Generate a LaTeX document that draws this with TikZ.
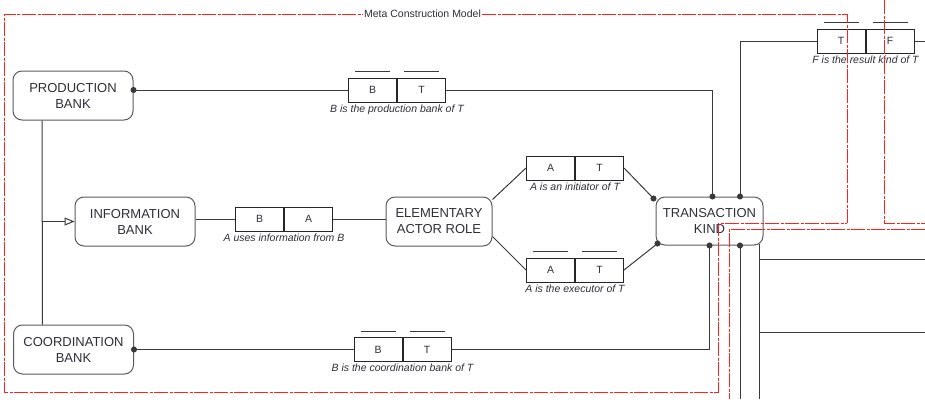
\documentclass[tikz,border=0pt]{standalone}
\usepackage{fontspec}
\setmainfont{Liberation Sans}
\usetikzlibrary{positioning,arrows.meta}
\definecolor{ink}{HTML}{2E2E3A}
\definecolor{wire}{HTML}{3A3A3A}
\definecolor{rim}{HTML}{5A5A5A}
\definecolor{scopered}{HTML}{FF2020}

\begin{document}
\begin{tikzpicture}[x=1pt, y=-1pt,
        thing/.style = {draw=rim, line width=1pt, rounded corners=9pt, align=center, text=ink,
                        font=\fontsize{13}{16}\selectfont, inner sep=0pt,
                        minimum width=120pt, minimum height=49pt},
        cell/.style = {draw=black!85, line width=1pt, minimum width=48pt, minimum height=24pt,
                       inner sep=0pt, text=ink, font=\fontsize{10.5}{12}\selectfont},
        fact/.style = {text=ink, font=\fontsize{10.5}{12}\selectfont\itshape, inner sep=1pt},
        link/.style = {draw=wire, line width=1pt},
        bar/.style = {draw=wire, line width=1pt},
        dotstart/.style = {arrows={Circle[length=6pt]-}, shorten <=-3pt},
        dotend/.style = {arrows={-Circle[length=6pt]}, shorten >=-3pt},
        scopeline/.style = {draw=scopered, line width=0.8pt, dash pattern=on 14pt off 1.5pt on 3pt off 1.5pt}]

        \useasboundingbox (0,0) rectangle (925,399);

        \node[thing] (pb) at (73,95.5) {PRODUCTION\\BANK};
        \node[thing] (ib) at (135,221.5) {INFORMATION\\BANK};
        \node[thing] (cb) at (73.5,349.5) {COORDINATION\\BANK};
        \node[thing, minimum width=106pt] (ear) at (439,221.5) {ELEMENTARY\\ACTOR ROLE};
        \node[thing, minimum width=107pt, minimum height=48pt] (tk) at (709.5,221) {TRANSACTION\\KIND};

        % fact types
        \node[cell] (pbB) at (372.5,90) {B};
        \node[cell, right=0pt of pbB] (pbT) {T};
        \node[fact, below=1pt of pbB.south east] (pbL) {B is the production bank of T};

        \node[cell] (iaB) at (259.5,219) {B};
        \node[cell, right=0pt of iaB] (iaA) {A};
        \node[fact, below=1pt of iaB.south east] (iaL) {A uses information from B};

        \node[cell] (inA) at (550.5,168) {A};
        \node[cell, right=0pt of inA] (inT) {T};
        \node[fact, below=1pt of inA.south east] (inL) {A is an initiator of T};

        \node[cell] (exA) at (550.5,270) {A};
        \node[cell, right=0pt of exA] (exT) {T};
        \node[fact, below=1pt of exA.south east] (exL) {A is the executor of T};

        \node[cell] (cbB) at (378,349.5) {B};
        \node[cell, right=0pt of cbB] (cbT) {T};
        \node[fact, below=1pt of cbB.south east] (cbL) {B is the coordination bank of T};

        \node[cell] (tfT) at (841,41) {T};
        \node[cell, right=0pt of tfT] (tfF) {F};
        \node[fact, below=1pt of tfT.south east] (tfL) {F is the result kind of T};

        % uniqueness bars
        \draw[bar] ([xshift=7pt,yshift=6pt]pbB.north west) -- ([xshift=-7pt,yshift=6pt]pbB.north east);
        \draw[bar] ([xshift=7pt,yshift=6pt]pbT.north west) -- ([xshift=-7pt,yshift=6pt]pbT.north east);
        \draw[bar] ([xshift=7pt,yshift=6pt]exA.north west) -- ([xshift=-7pt,yshift=6pt]exA.north east);
        \draw[bar] ([xshift=7pt,yshift=6pt]exT.north west) -- ([xshift=-7pt,yshift=6pt]exT.north east);
        \draw[bar] ([xshift=7pt,yshift=6pt]cbB.north west) -- ([xshift=-7pt,yshift=6pt]cbB.north east);
        \draw[bar] ([xshift=7pt,yshift=6pt]cbT.north west) -- ([xshift=-7pt,yshift=6pt]cbT.north east);
        \draw[bar] ([xshift=7pt,yshift=6pt]tfT.north west) -- ([xshift=-7pt,yshift=6pt]tfT.north east);
        \draw[bar] ([xshift=7pt,yshift=6pt]tfF.north west) -- ([xshift=-7pt,yshift=6pt]tfF.north east);

        \coordinate (jn) at ([xshift=-31pt]pb.south |- ib.west);
        \coordinate (tfOut) at (925,41);
        \coordinate (tkOut) at (740,399);
        \coordinate (skTop) at (759,244);
        \coordinate (skOut) at (759,399);
        \coordinate (r1a) at (759,259);
        \coordinate (r1b) at (925,259);
        \coordinate (r2a) at (759,332);
        \coordinate (r2b) at (925,332);

        \draw[link] ([xshift=-31pt]pb.south) -- ([xshift=-31pt]cb.north);
        \draw[link, -{Triangle[open, length=10pt, width=8pt]}] (jn) -- (ib.west);

        \draw[link, dotstart] (pb.east |- pbB) -- (pbB.west);
        \draw[link, dotend] (pbT.east) -| ([xshift=3pt]tk.north);
        \draw[link] (ib.east |- iaB) -- (iaB.west);
        \draw[link] (iaA.east) -- (iaA.east -| ear.west);
        \draw[link] ([yshift=-3pt]ear.north east) -- (inA.west);
        \draw[link, dotend] (inT.east) -- ([xshift=-2pt,yshift=-2pt]tk.north west);
        \draw[link] ([yshift=10pt]ear.south east) -- (exA.west);
        \draw[link, dotend] (exT.east) -- ([xshift=2pt,yshift=2pt]tk.south west);
        \draw[link, dotstart] (cb.east |- cbB) -- (cbB.west);
        \draw[link, dotend] (cbT.east) -| (tk.south);
        \draw[link, dotstart] ([xshift=30.5pt]tk.north) |- (tfT.west);
        \draw[link] (tfF.east) -- (tfOut);
        \draw[link, dotstart] ([xshift=30.5pt]tk.south) -- (tkOut);
        \draw[link] (skTop) -- (skOut);
        \draw[link] (r1a) -- (r1b);
        \draw[link] (r2a) -- (r2b);

        % model scopes
        \draw[scopeline] (847,223) -- (847,14) -- (4,14) -- (4,392) -- (718,392) -- (718,223) -- cycle;
        \draw[scopeline] (884,0) -- (884,223) -- (925,223);
        \draw[scopeline] (925,229) -- (729,229) -- (729,399);

        \node[fill=white, inner sep=1pt, text=ink, font=\fontsize{10.5}{12}\selectfont] (mcm) at (422.5,14) {Meta Construction Model};

\end{tikzpicture}
\end{document}
